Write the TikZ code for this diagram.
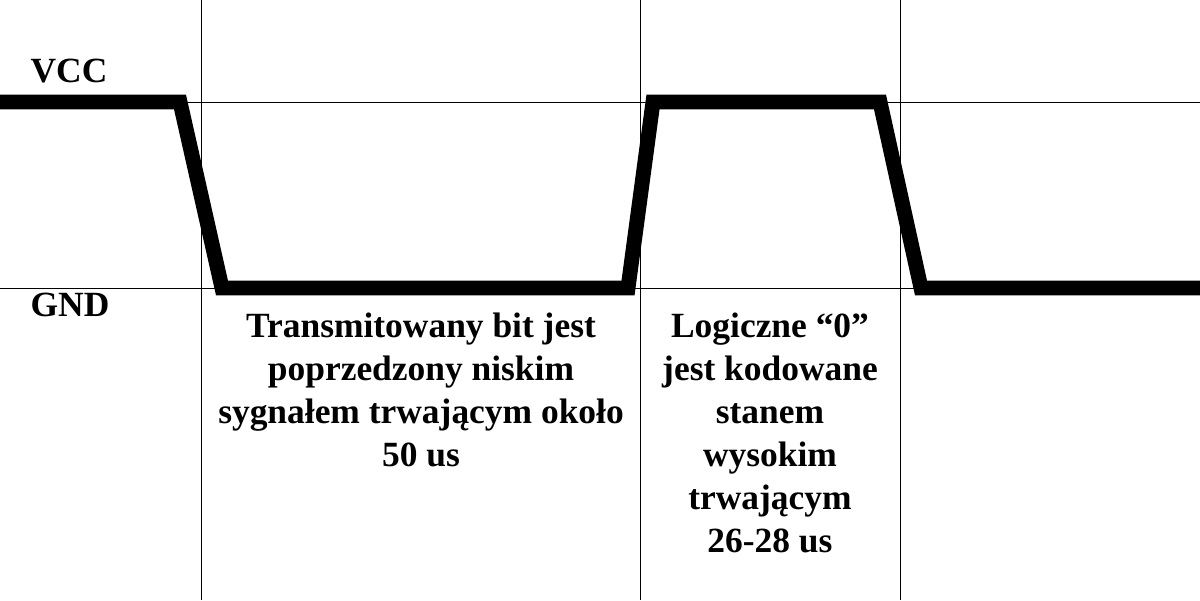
\documentclass[tikz,border=0pt]{standalone}
\usepackage{fontspec}
\setmainfont{Liberation Serif}
\usetikzlibrary{positioning}

\begin{document}
\begin{tikzpicture}[x=0.025cm, y=-0.025cm,
		grid/.style={black, line width=0.7pt},
		signal/.style={black, line width=10.6pt},
		label/.style={font=\fontsize{25.2}{30.5}\selectfont\bfseries, inner sep=0pt, align=center}]
		\useasboundingbox[fill=white] (0,0) rectangle (1200,600);
		
		% siatka
		\draw[grid] (0,102) -- (1200,102);
		\draw[grid] (0,288) -- (1200,288);
		\draw[grid] (201,0) -- (201,600);
		\draw[grid] (640,0) -- (640,600);
		\draw[grid] (900,0) -- (900,600);
		
		% punkty sygnalu
		\coordinate (s0) at (0,102);
		\coordinate (s1) at (180,102);
		\coordinate (s2) at (222,288);
		\coordinate (s3) at (628,288);
		\coordinate (s4) at (653,102);
		\coordinate (s5) at (880,102);
		\coordinate (s6) at (921,288);
		\coordinate (s7) at (1200,288);
		\draw[signal] (s0) -- (s1) -- (s2) -- (s3) -- (s4) -- (s5) -- (s6) -- (s7);
		
		% opisy poziomow
		\node[label] (vcc) at (69,71) {VCC};
		\node[label] (gnd) at (70,305) {GND};
		
		% opisy bitu
		\node[label, anchor=north] (start) at (421,313) {Transmitowany bit jest\\poprzedzony niskim\\sygnałem trwającym około\\50 us};
		\node[label, anchor=north] (zero) at (770,313) {Logiczne “0”\\jest kodowane\\stanem\\wysokim\\trwającym\\26-28 us};
	\end{tikzpicture}
\end{document}
